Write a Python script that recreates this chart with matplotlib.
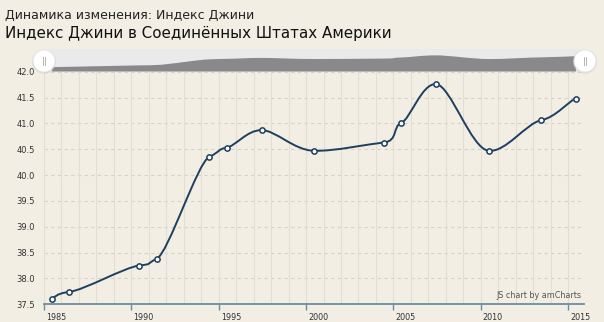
import numpy as np
import matplotlib
matplotlib.use('Agg')
import matplotlib.pyplot as plt
from matplotlib.path import Path
from matplotlib.patches import PathPatch, Ellipse
from matplotlib.lines import Line2D
from matplotlib.transforms import ScaledTranslation
from matplotlib.ticker import MultipleLocator, FormatStrFormatter

# ---------------- data ----------------
years = [1985, 1986, 1990, 1991, 1994, 1995, 1997, 2000, 2004, 2005, 2007, 2010, 2013, 2015]
gini = [37.61, 37.74, 38.25, 38.38, 40.35, 40.53, 40.87, 40.47, 40.63, 41.01, 41.76, 40.47, 41.06, 41.48]
x_ticks = [1985, 1990, 1995, 2000, 2005, 2010, 2015]
y_ticks = [37.5, 38.0, 38.5, 39.0, 39.5, 40.0, 40.5, 41.0, 41.5, 42.0]
title1 = "Динамика изменения: Индекс Джини"
title2 = "Индекс Джини в Соединённых Штатах Америки"
credit = "JS chart by amCharts"

# ---------------- style ----------------
W, H = 604, 322
BG = '#F2EEE3'
LINE = '#1E3F5E'
AXIS = '#6E8BA3'
MID = 0.45  # points sit mid-year on the date axis

xs = [y + MID for y in years]
XMIN, XMAX = 1985.0, 2015.91
YMIN, YMAX = 37.5, 42.0


def bezier_path(px, py, tx=6.0, ty=20.0, close_to=None):
    pts = list(zip(px, py))
    n = len(pts)
    verts = [pts[0]]
    codes = [Path.MOVETO]
    for i in range(n - 1):
        p0 = pts[i - 1] if i > 0 else pts[i]
        p1 = pts[i]
        p2 = pts[i + 1]
        p3 = pts[i + 2] if i + 2 < n else pts[i + 1]
        c1 = (p1[0] + (p2[0] - p0[0]) / tx, p1[1] + (p2[1] - p0[1]) / ty)
        c2 = (p2[0] - (p3[0] - p1[0]) / tx, p2[1] - (p3[1] - p1[1]) / ty)
        verts += [c1, c2, p2]
        codes += [Path.CURVE4] * 3
    if close_to is not None:
        verts += [(pts[-1][0], close_to), (pts[0][0], close_to), pts[0]]
        codes += [Path.LINETO, Path.LINETO, Path.CLOSEPOLY]
    return Path(verts, codes)


fig = plt.figure(figsize=(W / 100, H / 100), dpi=100)
fig.patch.set_facecolor(BG)

# main plot area
L, R, T, B = 44, 584, 71.7, 304.3
ax = fig.add_axes([L / W, 1 - B / H, (R - L) / W, (B - T) / H])
ax.set_facecolor(BG)
ax.set_xlim(XMIN, XMAX)
ax.set_ylim(YMIN, YMAX)

# grids
ax.xaxis.set_minor_locator(MultipleLocator(1))
ax.set_xticks(x_ticks)
ax.set_yticks(y_ticks)
ax.yaxis.set_major_formatter(FormatStrFormatter('%.1f'))
ax.grid(False)
for yv in y_ticks:
    ax.axhline(yv, color='#D6D2C6', lw=0.8, ls=(0, (3, 3)), zorder=1)
for xv in range(1985, 2016):
    ax.axvline(xv, color='#E2DED2', lw=0.8, zorder=1)

for s in ['top', 'right', 'left']:
    ax.spines[s].set_visible(False)
ax.spines['bottom'].set_color(AXIS)
ax.spines['bottom'].set_linewidth(1.3)
ax.tick_params(axis='x', which='major', length=4, width=1, color=AXIS, pad=2.5,
               labelsize=5.8, labelcolor='#333333', direction='out')
ax.tick_params(axis='x', which='minor', length=0)
ax.tick_params(axis='y', length=0, pad=6.5, labelsize=6, labelcolor='#333333')
shift = ScaledTranslation(2 / 100, 0, fig.dpi_scale_trans)
for lab in ax.get_xticklabels():
    lab.set_family('DejaVu Sans')
    lab.set_ha('left')
    lab.set_transform(lab.get_transform() + shift)
for lab in ax.get_yticklabels():
    lab.set_family('DejaVu Sans')

# smoothed line
ax.add_patch(PathPatch(bezier_path(xs, gini), fill=False, edgecolor=LINE, lw=1.4,
                       capstyle='round', joinstyle='round', zorder=3))
ax.plot(xs, gini, ls='none', marker='o', ms=3.8, mfc='white', mec=LINE, mew=1.1, zorder=4)

ax.text(0.9945, 0.018, credit, transform=ax.transAxes, ha='right', va='bottom',
        fontsize=5.8, color='#555555', family='DejaVu Sans', zorder=5)

# scrollbar
sT, sB = 49.3, 71.5
sax = fig.add_axes([L / W, 1 - sB / H, (R - L) / W, (sB - sT) / H])
sax.set_facecolor('#EAEAEA')
sax.set_xlim(XMIN, XMAX)
sax.set_ylim(36.09, 43.89)
sax.add_patch(PathPatch(bezier_path(xs, gini, close_to=36.09), facecolor='#898989',
                        edgecolor='none', zorder=2))
sax.set_xticks([])
sax.set_yticks([])
for s in sax.spines.values():
    s.set_visible(False)

# scrollbar handles
for hx in (44, 585):
    cy = 61
    fig.add_artist(Ellipse((hx / W, 1 - (cy + 0.8) / H), 24 / W, 24 / H,
                           transform=fig.transFigure, facecolor='#CFCFCF',
                           edgecolor='none', alpha=0.5, zorder=10))
    fig.add_artist(Ellipse((hx / W, 1 - cy / H), 22 / W, 22 / H,
                           transform=fig.transFigure, facecolor='white',
                           edgecolor='#E4E4E4', lw=0.6, zorder=11))
    for dx in (-1.3, 1.3):
        fig.add_artist(Line2D([(hx + dx) / W] * 2, [1 - (cy - 4) / H, 1 - (cy + 4) / H],
                              transform=fig.transFigure, color='#B5B5B5', lw=0.7,
                              zorder=12))

# titles
fig.text(5 / W, 1 - 19.3 / H, title1, ha='left', va='baseline', fontsize=9.0,
         color='#222222', family='DejaVu Sans')
fig.text(5 / W, 1 - 38.3 / H, title2, ha='left', va='baseline', fontsize=10.9,
         color='#111111', family='DejaVu Sans')

fig.savefig('out.png', dpi=100, facecolor=BG)
